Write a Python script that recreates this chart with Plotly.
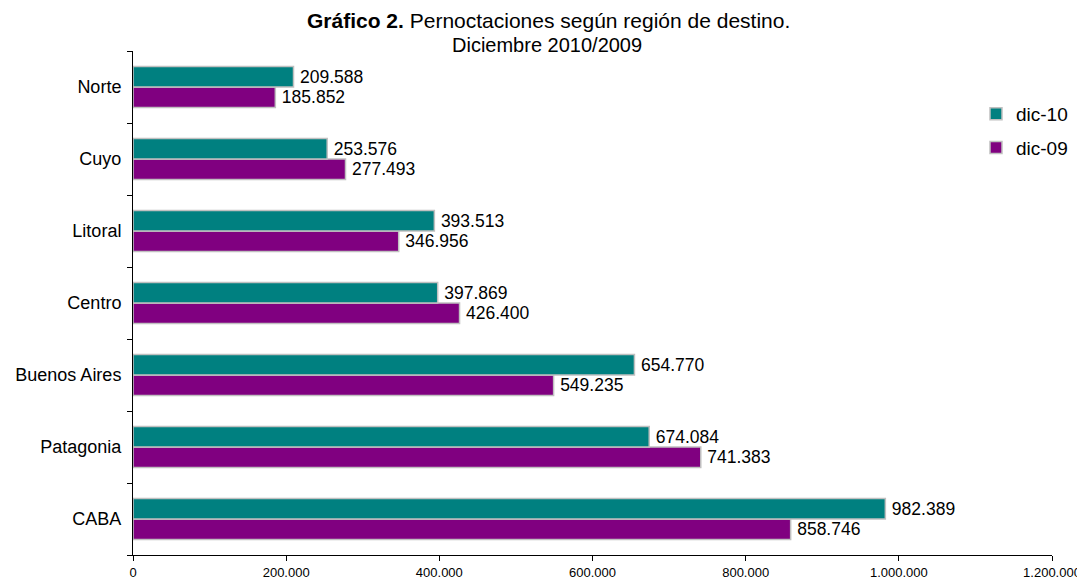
import plotly.graph_objects as go

categories = ["CABA", "Patagonia", "Buenos Aires", "Centro", "Litoral", "Cuyo", "Norte"]
dic10 = [982389, 674084, 654770, 397869, 393513, 253576, 209588]
dic09 = [858746, 741383, 549235, 426400, 346956, 277493, 185852]
tick_vals = [0, 200000, 400000, 600000, 800000, 1000000, 1200000]
tick_text = ["0", "200.000", "400.000", "600.000", "800.000", "1.000.000", "1.200.000"]


def fmt(v):
    return "\u2009" + f"{v:,}".replace(",", ".")


OFF = 8  # default page body margin
W, H = 1085 - OFF, 582 - OFF
ML, MR, MT, MB = 133 - OFF, 33, 51 - OFF, 27
PW = W - ML - MR
PH = H - MT - MB


def px(p):
    return (p - OFF - ML) / PW


def py(p):
    return (H - MB - (p - OFF)) / PH


fig = go.Figure()
fig.add_trace(go.Bar(
    y=categories, x=dic09, orientation="h", name="dic-09", legendgroup="b", legendrank=2,
    marker=dict(color="#800080", line=dict(color="#c0c0c0", width=1.5)),
    text=[fmt(v) for v in dic09], textposition="outside",
    textfont=dict(size=17.5, color="black"), cliponaxis=False,
))
fig.add_trace(go.Bar(
    y=categories, x=dic10, orientation="h", name="dic-10", legendgroup="a", legendrank=1,
    marker=dict(color="#008080", line=dict(color="#c0c0c0", width=1.5)),
    text=[fmt(v) for v in dic10], textposition="outside",
    textfont=dict(size=17.5, color="black"), cliponaxis=False,
))

fig.add_annotation(text="<b>Gráfico 2.</b> Pernoctaciones según región de destino.",
                   xref="paper", yref="paper", x=px(548), y=py(20),
                   xanchor="center", yanchor="middle", showarrow=False,
                   font=dict(size=21))
fig.add_annotation(text="Diciembre 2010/2009",
                   xref="paper", yref="paper", x=px(547), y=py(45),
                   xanchor="center", yanchor="middle", showarrow=False,
                   font=dict(size=20))

fig.update_layout(
    width=W, height=H,
    paper_bgcolor="white", plot_bgcolor="white",
    font=dict(family="Liberation Sans, Arial, sans-serif", color="black"),
    margin=dict(l=ML, r=MR, t=MT, b=MB, autoexpand=False),
    barmode="group", bargap=0.43, bargroupgap=0,
    showlegend=True,
    legend=dict(x=px(976), y=py(95), xanchor="left", yanchor="top",
                traceorder="grouped", tracegroupgap=6,
                font=dict(size=19), bgcolor="rgba(0,0,0,0)"),
    xaxis=dict(range=[0, 1200000], tickvals=tick_vals, ticktext=tick_text,
               showgrid=False, zeroline=False, showline=True, linecolor="black",
               linewidth=1, ticks="outside", ticklen=5, tickcolor="black",
               tickfont=dict(size=13), automargin=False),
    yaxis=dict(categoryorder="array", categoryarray=categories,
               showgrid=False, showline=True, linecolor="black", linewidth=1,
               ticks="outside", ticklen=5, tickcolor="black", tickson="boundaries",
               tickfont=dict(size=18), ticklabelstandoff=7, automargin=False),
)

fig.write_html("out.html")
